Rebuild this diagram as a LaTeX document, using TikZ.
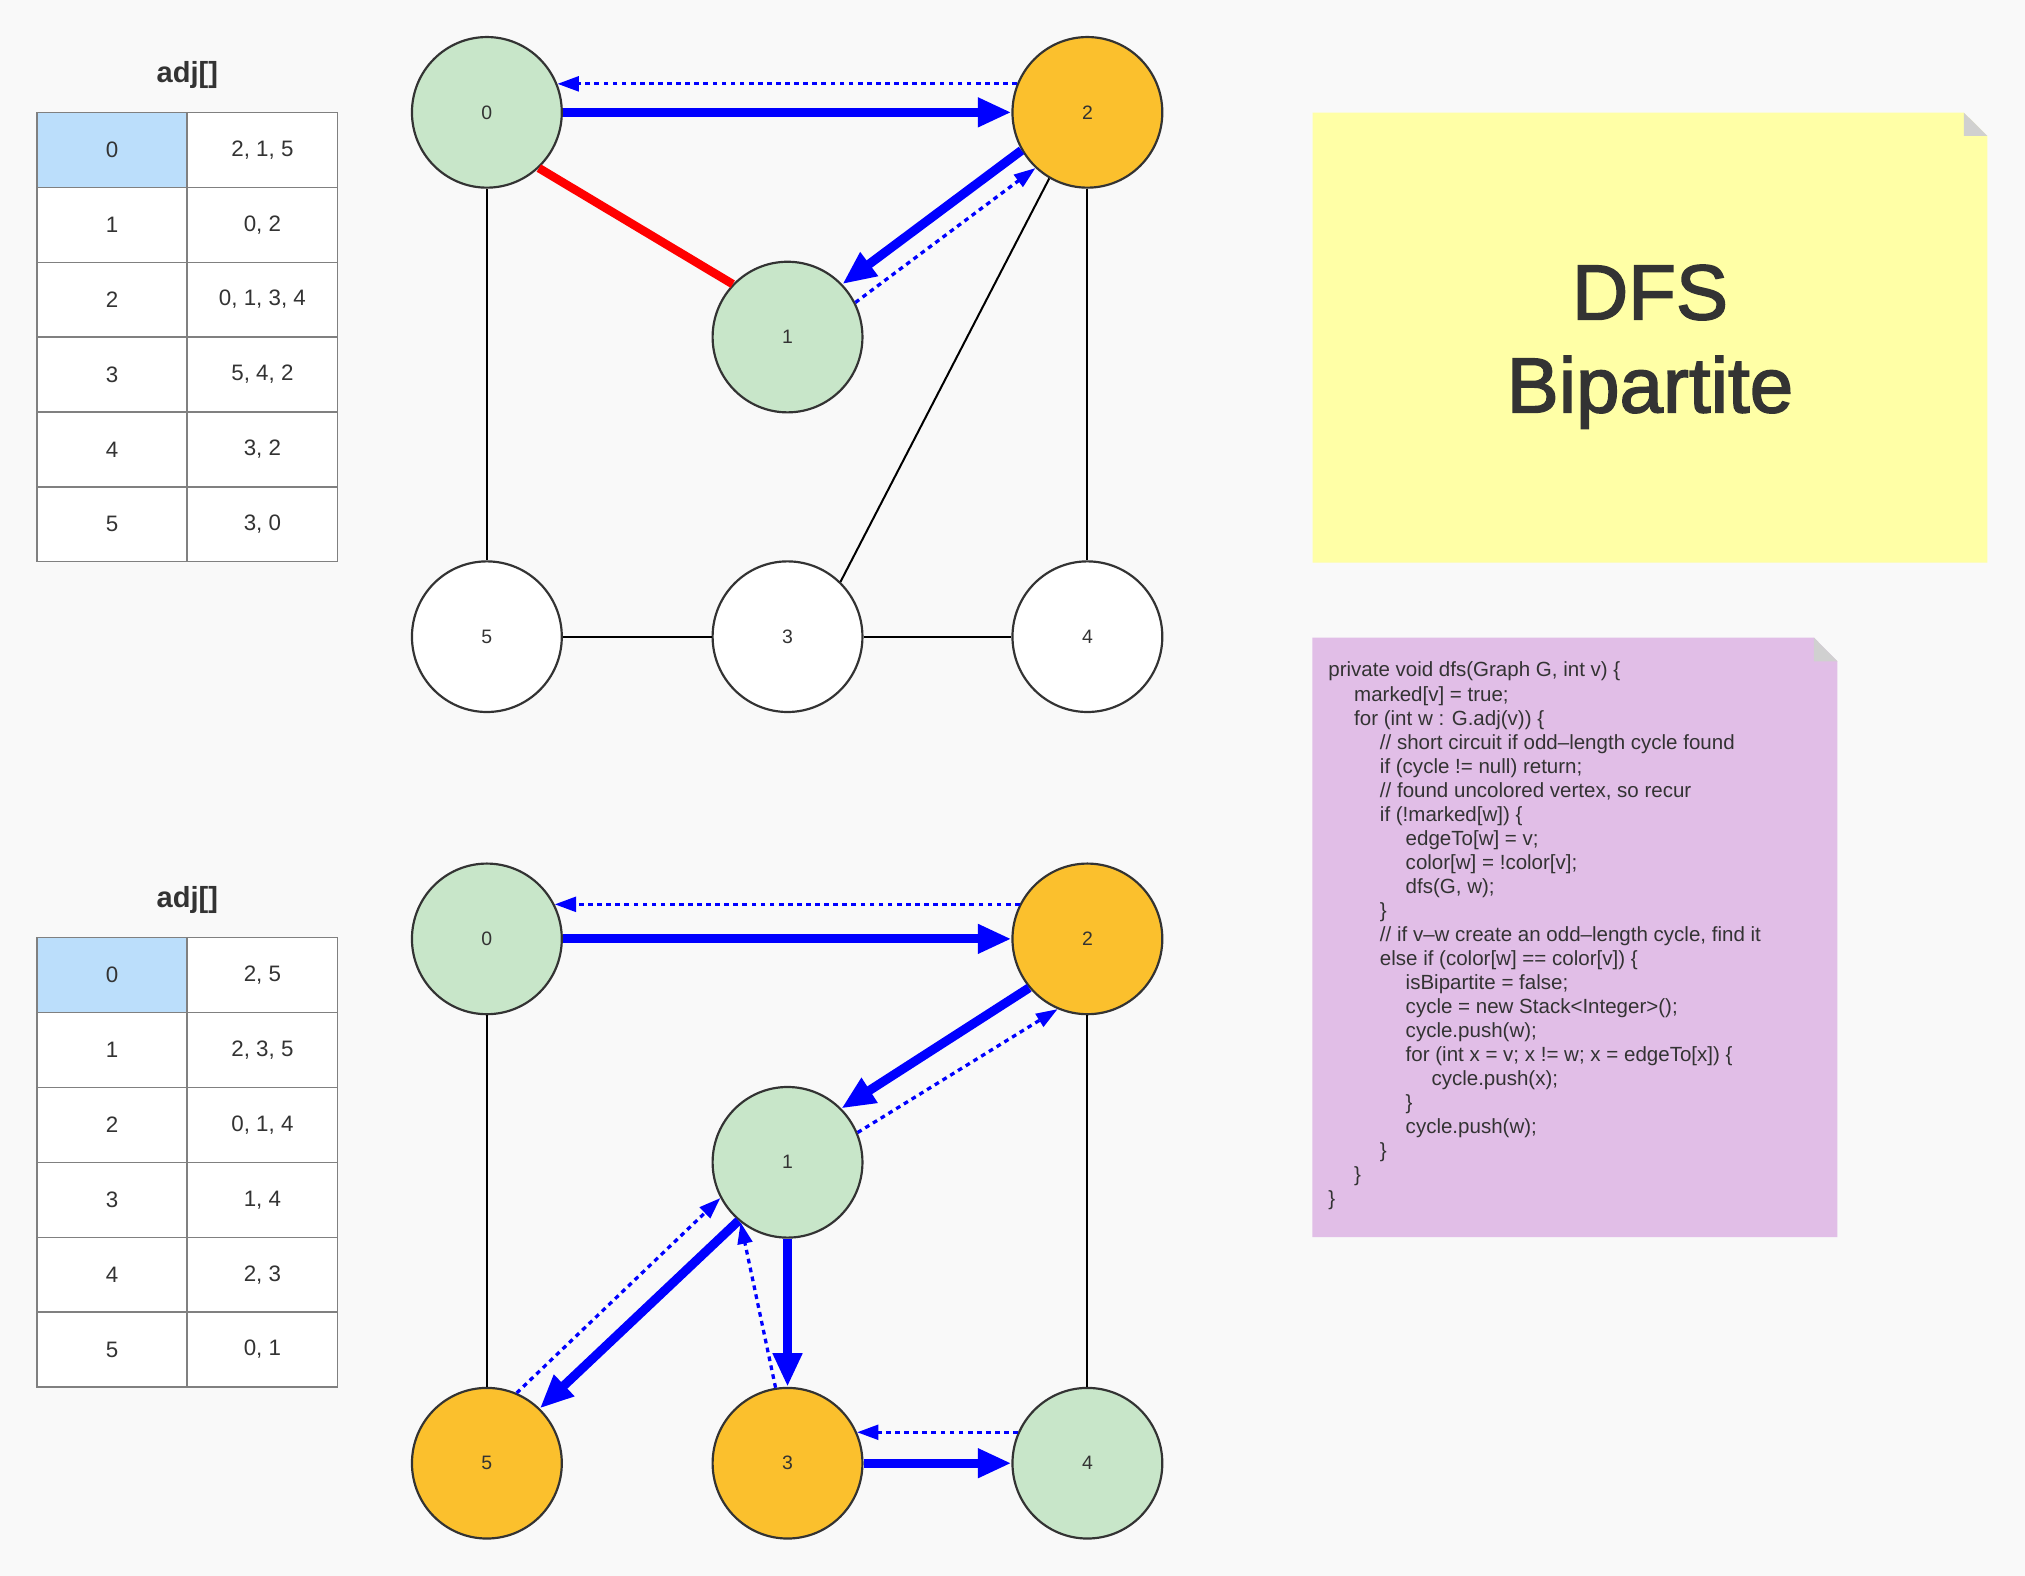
\documentclass[tikz,border=0pt]{standalone}
\usepackage{fontspec}
\setmainfont{Liberation Sans}
\newfontfamily\titlefont[FakeBold=2]{Liberation Sans}
\usetikzlibrary{arrows.meta,shapes.geometric}
\definecolor{bgc}{HTML}{F9F9F9}
\definecolor{ink}{HTML}{333333}
\definecolor{vgreen}{HTML}{C8E6C9}
\definecolor{vorange}{HTML}{FBC02D}
\definecolor{cellblue}{HTML}{BBDEFB}
\definecolor{cellline}{HTML}{808080}
\definecolor{noteyellow}{HTML}{FFFFA6}
\definecolor{notepurple}{HTML}{E1BEE7}
\definecolor{foldgray}{HTML}{D0D0D0}
\tikzset{
  vnode/.style={ellipse, draw=ink, line width=1.2pt, minimum width=2.9cm, minimum height=2.915cm,
    inner sep=0pt, font=\fontsize{10.7}{12}\selectfont, text=ink},
  vg/.style={vnode, fill=vgreen},
  vo/.style={vnode, fill=vorange},
  vw/.style={vnode, fill=white},
  plain/.style={line width=1.1pt, black},
  redl/.style={line width=4.7pt, red},
  tree/.style={line width=5pt, blue, -{Triangle[length=18.5pt,width=15.2pt]}},
  back/.style={line width=1.8pt, blue, dash pattern=on 2.6pt off 2.4pt, -{Triangle[length=11.8pt,width=8.1pt]}},
  cell/.style={draw=cellline, line width=0.7pt, fill=white, minimum width=2.9cm, minimum height=1.45cm,
    inner sep=0pt, font=\fontsize{12.3}{14}\selectfont, text=ink},
  keycell/.style={cell, fill=cellblue},
  tabtitle/.style={font=\bfseries\fontsize{16}{18}\selectfont, text=ink, inner sep=0pt},
}
\begin{document}
\begin{tikzpicture}[x=0.025cm, y=-0.025cm]
\useasboundingbox (0,0) rectangle (1568,1220);
\fill[bgc] (0,0) rectangle (1568,1220);

% ---------- tables ----------
\node[tabtitle] (t1title) at (145,58) {adj[]};
\node[keycell] (t1k0) at (86.7,116) {0}; \node[cell] (t1v0) at (203.2,116) {2, 1, 5};
\node[cell] (t1k1) at (86.7,174) {1};    \node[cell] (t1v1) at (203.2,174) {0, 2};
\node[cell] (t1k2) at (86.7,232) {2};    \node[cell] (t1v2) at (203.2,232) {0, 1, 3, 4};
\node[cell] (t1k3) at (86.7,290) {3};    \node[cell] (t1v3) at (203.2,290) {5, 4, 2};
\node[cell] (t1k4) at (86.7,348) {4};    \node[cell] (t1v4) at (203.2,348) {3, 2};
\node[cell] (t1k5) at (86.7,406) {5};    \node[cell] (t1v5) at (203.2,406) {3, 0};

\node[tabtitle] (t2title) at (145,697) {adj[]};
\node[keycell] (t2k0) at (86.7,755) {0}; \node[cell] (t2v0) at (203.2,755) {2, 5};
\node[cell] (t2k1) at (86.7,813) {1};    \node[cell] (t2v1) at (203.2,813) {2, 3, 5};
\node[cell] (t2k2) at (86.7,871) {2};    \node[cell] (t2v2) at (203.2,871) {0, 1, 4};
\node[cell] (t2k3) at (86.7,929) {3};    \node[cell] (t2v3) at (203.2,929) {1, 4};
\node[cell] (t2k4) at (86.7,987) {4};    \node[cell] (t2v4) at (203.2,987) {2, 3};
\node[cell] (t2k5) at (86.7,1045) {5};   \node[cell] (t2v5) at (203.2,1045) {0, 1};

% ---------- top graph ----------
\node[vg] (a0) at (377,87) {0};
\node[vo] (a2) at (842,87) {2};
\node[vg] (a1) at (609.8,261) {1};
\node[vw] (a5) at (377,493) {5};
\node[vw] (a3) at (609.8,493) {3};
\node[vw] (a4) at (842,493) {4};

\draw[plain] (a0) -- (a5);
\draw[plain] (a5) -- (a3);
\draw[plain] (a3) -- (a4);
\draw[plain] (a2) -- (a4);
\draw[plain] (a2.240) -- (a3.46);
\draw[redl] (a0.313) -- (a1.136);
\draw[tree] (a0.east) -- (a2.west);
\draw[back] (a2.158) -- (a0.22);
\draw[tree] (a2.210) -- (a1.44);
\draw[back] (a1.27) -- (a2.227);

% ---------- bottom graph ----------
\node[vg] (b0) at (377,727) {0};
\node[vo] (b2) at (842,727) {2};
\node[vg] (b1) at (609.8,900) {1};
\node[vo] (b5) at (377,1133) {5};
\node[vo] (b3) at (609.8,1133) {3};
\node[vg] (b4) at (842,1133) {4};

\draw[plain] (b0) -- (b5);
\draw[plain] (b2) -- (b4);
\draw[tree] (b0.east) -- (b2.west);
\draw[back] (b2.153) -- (b0.27);
\draw[tree] (b2.220) -- (b1.45);
\draw[back] (b1.23) -- (b2.247);
\draw[tree] (b1.230) -- (b5.46);
\draw[back] (b5.67) -- (b1.208);
\draw[tree] (b1.south) -- (b3.north);
\draw[back] (b3.99) -- (b1.232);
\draw[tree] (b3.east) -- (b4.west);
\draw[back] (b4.156) -- (b3.24);

% ---------- title note ----------
\fill[noteyellow] (1016.3,87.2) -- (1520.6,87.2) -- (1538.9,105.3) -- (1538.9,435.7) -- (1016.3,435.7) -- cycle;
\fill[foldgray] (1520.6,87.2) -- (1520.6,105.3) -- (1538.9,105.3) -- cycle;
\node[align=center, inner sep=0pt, text=ink, font=\titlefont\fontsize{43}{51.2}\selectfont] (title) at (1277.6,268.5) {DFS\\Bipartite};

% ---------- code note ----------
\fill[notepurple] (1016.1,493.8) -- (1404.6,493.8) -- (1422.8,512.1) -- (1422.8,958) -- (1016.1,958) -- cycle;
\fill[foldgray] (1404.6,493.8) -- (1404.6,512.1) -- (1422.8,512.1) -- cycle;
\node[anchor=north west, align=left, inner sep=0pt, text=ink, font=\fontsize{11.3}{13.23}\selectfont] (code) at (1028.3,512.4) {%
private void dfs(Graph G, int v) \{\\
\hspace*{14.2pt}marked[v] = true;\\
\hspace*{14.2pt}for (int w : G.adj(v)) \{\\
\hspace*{28.4pt}// short circuit if odd–length cycle found\\
\hspace*{28.4pt}if (cycle != null) return;\\
\hspace*{28.4pt}// found uncolored vertex, so recur\\
\hspace*{28.4pt}if (!marked[w]) \{\\
\hspace*{42.6pt}edgeTo[w] = v;\\
\hspace*{42.6pt}color[w] = !color[v];\\
\hspace*{42.6pt}dfs(G, w);\\
\hspace*{28.4pt}\}\\
\hspace*{28.4pt}// if v–w create an odd–length cycle, find it\\
\hspace*{28.4pt}else if (color[w] == color[v]) \{\\
\hspace*{42.6pt}isBipartite = false;\\
\hspace*{42.6pt}cycle = new Stack<Integer>();\\
\hspace*{42.6pt}cycle.push(w);\\
\hspace*{42.6pt}for (int x = v; x != w; x = edgeTo[x]) \{\\
\hspace*{56.8pt}cycle.push(x);\\
\hspace*{42.6pt}\}\\
\hspace*{42.6pt}cycle.push(w);\\
\hspace*{28.4pt}\}\\
\hspace*{14.2pt}\}\\
\}};
\end{tikzpicture}
\end{document}
